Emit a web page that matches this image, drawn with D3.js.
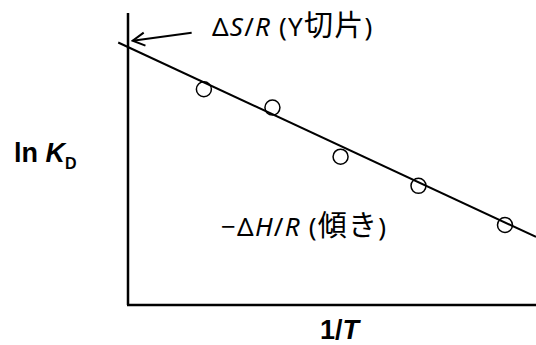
<!DOCTYPE html>
<html>
<head>
<meta charset="utf-8">
<script src="https://cdn.jsdelivr.net/npm/d3@7"></script>
<style>
  body { margin: 0; background: #fff; }
  svg text.note { font-family: "Noto Sans", "Noto Sans CJK JP", sans-serif; font-size: 26px; fill: #000; letter-spacing: 1.2px; }
  svg text.note .cjk { font-family: "Noto Sans CJK JP", sans-serif; font-size: 29px; }
  svg text.axis-title { font-family: "Liberation Sans", Arial, sans-serif; font-weight: bold; font-size: 27px; fill: #000; }
</style>
</head>
<body>
<div id="chart"></div>
<script>
// data (arbitrary units)
var pointX = [18.6, 35.4, 52.1, 71.2, 92.4];
var pointY = [73.9, 67.6, 50.8, 40.8, 27.4];
var fitX = [-2.4, 100];
var fitY = [89.9, 23.3];
var arrowFrom = [15.6, 93.25];
var arrowTo = [1.15, 90.5];

var width = 536, height = 345;

var svg = d3.select("#chart").append("svg")
    .attr("width", width)
    .attr("height", height);

var x = d3.scaleLinear().domain([0, 100]).range([128, 536]);
var y = d3.scaleLinear().domain([0, 100]).range([305, 13]);

svg.append("defs").append("marker")
    .attr("id", "arrow")
    .attr("viewBox", "-14 -8 16 16")
    .attr("refX", 0).attr("refY", 0)
    .attr("markerWidth", 16).attr("markerHeight", 16)
    .attr("markerUnits", "userSpaceOnUse")
    .attr("orient", "auto")
    .append("path")
    .attr("d", "M-12,-6.5L0,0L-12,6.5")
    .attr("fill", "none")
    .attr("stroke", "#000")
    .attr("stroke-width", 2);

// axes (plain lines, no ticks)
svg.append("line")
    .attr("x1", x(0)).attr("x2", x(0))
    .attr("y1", y(100)).attr("y2", y(0))
    .attr("stroke", "#000").attr("stroke-width", 2.5);
svg.append("line")
    .attr("x1", x(0) - 1).attr("x2", x(100))
    .attr("y1", y(0)).attr("y2", y(0))
    .attr("stroke", "#000").attr("stroke-width", 2.5);

// fitted line
svg.append("line")
    .attr("x1", x(fitX[0])).attr("y1", y(fitY[0]))
    .attr("x2", x(fitX[1])).attr("y2", y(fitY[1]))
    .attr("stroke", "#000").attr("stroke-width", 2);

// points
svg.selectAll("circle")
    .data(d3.range(pointX.length))
    .enter().append("circle")
    .attr("cx", function (i) { return x(pointX[i]); })
    .attr("cy", function (i) { return y(pointY[i]); })
    .attr("r", 7.5)
    .attr("fill", "none")
    .attr("stroke", "#000")
    .attr("stroke-width", 1.5);

// arrow
svg.append("line")
    .attr("x1", x(arrowFrom[0])).attr("y1", y(arrowFrom[1]))
    .attr("x2", x(arrowTo[0])).attr("y2", y(arrowTo[1]))
    .attr("stroke", "#000").attr("stroke-width", 2)
    .attr("marker-end", "url(#arrow)");

// annotations
var t1 = svg.append("text").attr("class", "note")
    .attr("x", 212).attr("y", 36);
t1.append("tspan").text("Δ");
t1.append("tspan").attr("font-style", "italic").text("S");
t1.append("tspan").text("/");
t1.append("tspan").attr("font-style", "italic").text("R");
t1.append("tspan").text(" (Y");
t1.append("tspan").attr("class", "cjk").text("切片");
t1.append("tspan").text(")");

var t2 = svg.append("text").attr("class", "note")
    .attr("x", 221).attr("y", 236);
t2.append("tspan").text("−Δ");
t2.append("tspan").attr("font-style", "italic").text("H");
t2.append("tspan").text("/");
t2.append("tspan").attr("font-style", "italic").text("R");
t2.append("tspan").text(" (");
t2.append("tspan").attr("class", "cjk").text("傾き");
t2.append("tspan").text(")");

// axis titles
var yt = svg.append("text").attr("class", "axis-title")
    .attr("x", 14).attr("y", 162);
yt.append("tspan").text("ln ");
yt.append("tspan").attr("font-style", "italic").text("K");
yt.append("tspan").attr("font-size", "16px").attr("dy", 7).text("D");

var xt = svg.append("text").attr("class", "axis-title")
    .attr("x", 320).attr("y", 339);
xt.append("tspan").text("1/");
xt.append("tspan").attr("font-style", "italic").text("T");
</script>
</body>
</html>
